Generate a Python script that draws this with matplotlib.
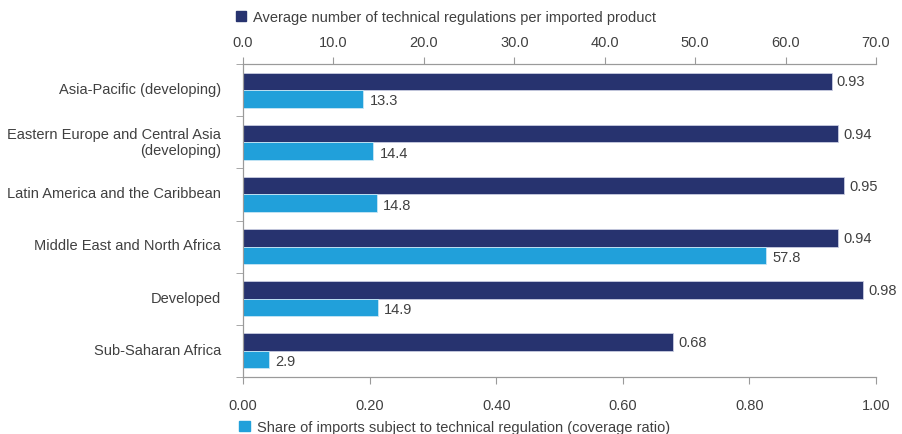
import numpy as np
import matplotlib
matplotlib.use('Agg')
from matplotlib import pyplot as plt
from matplotlib.patches import Patch

plt.rcParams['font.family'] = ['Liberation Sans', 'DejaVu Sans']

regions = ['Asia-Pacific (developing)', 'Eastern Europe and Central Asia\n(developing)',
           'Latin America and the Caribbean', 'Middle East and North Africa',
           'Developed', 'Sub-Saharan Africa']
avg_regs = [0.93, 0.94, 0.95, 0.94, 0.98, 0.68]      # dark bars, bottom axis
coverage = [13.3, 14.4, 14.8, 57.8, 14.9, 2.9]       # light bars, top axis

top_label = 'Average number of technical regulations per imported product'
bottom_label = 'Share of imports subject to technical regulation (coverage ratio)'

dark = '#27336f'
light = '#21a0da'
txt = '#404040'
spine_col = '#9a9a9a'

fig = plt.figure(figsize=(9.02, 4.35), dpi=100)
ax = fig.add_axes([0.2694, 0.131, 0.7018, 0.7196])
ax2 = ax.twiny()

y = np.arange(len(regions))
h = 0.335
ax.barh(y - h / 2, avg_regs, height=h, color=dark, edgecolor='#c8cce0', linewidth=0.6)
ax2.barh(y + h / 2, coverage, height=h, color=light, edgecolor='#c8e6f5', linewidth=0.6)

for yi, v in zip(y, avg_regs):
    ax.text(v + 0.008, yi - h / 2, '{:.2f}'.format(v), va='center', ha='left', fontsize=10.5, color=txt)
for yi, v in zip(y, coverage):
    ax2.text(v + 0.7, yi + h / 2 + 0.03, '{:.1f}'.format(v), va='center', ha='left', fontsize=10.5, color=txt)

ax.set_xlim(0, 1.0)
ax2.set_xlim(0, 70)
ax.set_ylim(len(regions) - 0.5, -0.5)

ax.set_xticks(np.arange(0, 1.01, 0.2))
ax.set_xticklabels(['{:.2f}'.format(t) for t in np.arange(0, 1.01, 0.2)])
ax2.set_xticks(np.arange(0, 71, 10))
ax2.set_xticklabels(['{:.1f}'.format(t) for t in np.arange(0, 71, 10)])

ax.set_yticks(y - 0.05)
ax.set_yticklabels(regions, fontsize=10.5, color=txt)
ax.set_yticks(np.arange(-0.5, len(regions)), minor=True)
ax.tick_params(axis='y', which='major', length=0, pad=16)
ax.tick_params(axis='y', which='minor', length=5, color=spine_col)
ax.tick_params(axis='x', length=5, color=spine_col, labelsize=10.5, labelcolor=txt, pad=10)
ax2.tick_params(axis='x', length=5, color=spine_col, labelsize=10.5, labelcolor=txt, pad=6)

for a in (ax, ax2):
    a.spines['right'].set_visible(False)
    for s in ('left', 'top', 'bottom'):
        a.spines[s].set_color(spine_col)
        a.spines[s].set_linewidth(0.8)

fig.legend(handles=[Patch(color=dark, label=top_label)], loc='center left',
           bbox_to_anchor=(0.255, 0.958), frameon=False, fontsize=10.5, handlelength=0.7,
           handleheight=0.7, handletextpad=0.5, labelcolor=txt, borderaxespad=0)
fig.legend(handles=[Patch(color=light, label=bottom_label)], loc='center left',
           bbox_to_anchor=(0.259, 0.016), frameon=False, fontsize=10.5, handlelength=0.7,
           handleheight=0.7, handletextpad=0.5, labelcolor=txt, borderaxespad=0)

fig.savefig('out.png', dpi=100)
